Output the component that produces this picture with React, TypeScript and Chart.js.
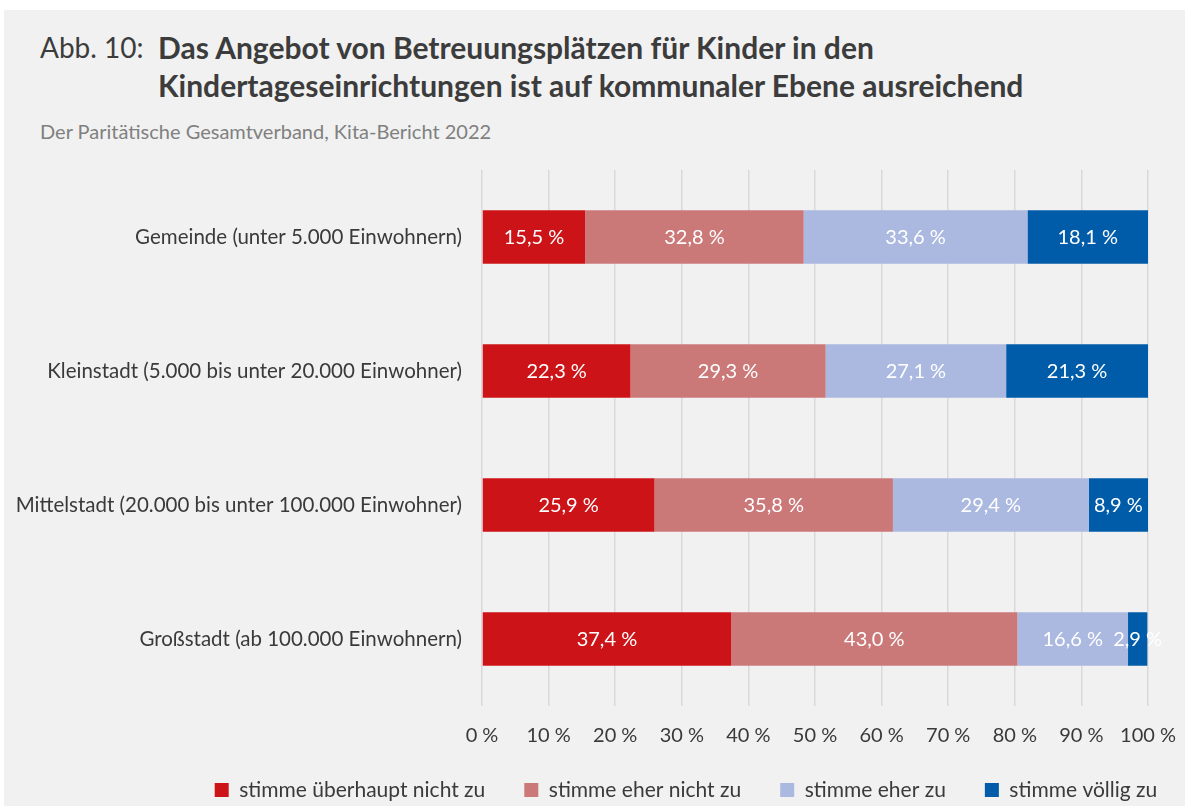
import React, { useEffect, useRef } from "react";
import { Chart, registerables } from "chart.js";

Chart.register(...registerables);

const categories = [
  "Gemeinde (unter 5.000 Einwohnern)",
  "Kleinstadt (5.000 bis unter 20.000 Einwohner)",
  "Mittelstadt (20.000 bis unter 100.000 Einwohner)",
  "Großstadt (ab 100.000 Einwohnern)",
];
const seriesNames = [
  "stimme überhaupt nicht zu",
  "stimme eher nicht zu",
  "stimme eher zu",
  "stimme völlig zu",
];
const stimmeUeberhauptNicht = [15.5, 22.3, 25.9, 37.4];
const stimmeEherNicht = [32.8, 29.3, 35.8, 43.0];
const stimmeEher = [33.6, 27.1, 29.4, 16.6];
const stimmeVoellig = [18.1, 21.3, 8.9, 2.9];
const seriesColors = ["#cc1418", "#cb7879", "#abb8e0", "#005ca8"];
const xTickMin = 0;
const xTickMax = 100;
const xTickStep = 10;

const FONT = "Lato, 'Open Sans', sans-serif";
const TEXT = "#3a3a3a";

// canvas placement on the page
const CANVAS_TOP = 135;
// legend placement (canvas coordinates)
const LEGEND_CENTER_X = 686;
const LEGEND_TEXT_Y = 790 - CANVAS_TOP;

const fmt = (v: number) => v.toFixed(1).replace(".", ",") + " %";

const valueLabels = {
  id: "valueLabels",
  afterDatasetsDraw(chart: any) {
    const ctx = chart.ctx;
    ctx.save();
    ctx.fillStyle = "#ffffff";
    ctx.font = `20px ${FONT}`;
    ctx.textAlign = "center";
    ctx.textBaseline = "middle";
    chart.data.datasets.forEach((ds: any, di: number) => {
      const meta = chart.getDatasetMeta(di);
      meta.data.forEach((bar: any, i: number) => {
        const v = ds.data[i];
        const cx = (bar.base + bar.x) / 2;
        ctx.fillText(fmt(v), cx, bar.y + 1);
      });
    });
    ctx.restore();
  },
};

const legendPlacement = {
  id: "legendPlacement",
  afterLayout(chart: any) {
    const lg = chart.legend;
    if (!lg) return;
    const dx = LEGEND_CENTER_X - (lg.left + lg.right) / 2;
    const lp = lg.options.labels.padding;
    const fs = lg.options.labels.font.size;
    const targetTop = LEGEND_TEXT_Y - lp - fs / 2;
    const dy = targetTop - lg.top;
    lg.left += dx;
    lg.right += dx;
    lg.top += dy;
    lg.bottom += dy;
  },
};

export default function App() {
  const ref = useRef<HTMLCanvasElement | null>(null);

  useEffect(() => {
    if (!ref.current) return;
    const seriesData = [stimmeUeberhauptNicht, stimmeEherNicht, stimmeEher, stimmeVoellig];
    const chart = new Chart(ref.current, {
      type: "bar",
      data: {
        labels: categories,
        datasets: seriesNames.map((name, i) => ({
          label: name,
          data: seriesData[i],
          backgroundColor: seriesColors[i],
          borderWidth: 0,
          categoryPercentage: 1,
          barPercentage: 0.4,
        })),
      },
      options: {
        indexAxis: "y",
        responsive: true,
        maintainAspectRatio: false,
        animation: false,
        layout: { padding: { left: 0, right: 50, top: 35, bottom: 0 } },
        plugins: {
          tooltip: { enabled: false },
          title: { display: false },
          legend: {
            position: "bottom",
            align: "center",
            labels: {
              boxWidth: 14,
              boxHeight: 14,
              padding: 39,
              color: TEXT,
              font: { family: FONT, size: 21 },
            },
          },
        },
        scales: {
          x: {
            stacked: true,
            min: xTickMin,
            max: xTickMax,
            border: { display: false },
            grid: { color: "#d9d9d9", lineWidth: 1.5, drawTicks: false },
            ticks: {
              stepSize: xTickStep,
              padding: 18,
              color: TEXT,
              font: { family: FONT, size: 20 },
              callback: (v: any) => `${v} %`,
            },
            afterFit: (scale: any) => {
              scale.height = 50;
            },
          },
          y: {
            stacked: true,
            border: { display: false },
            grid: { display: false, drawTicks: false },
            ticks: {
              padding: 20,
              color: TEXT,
              font: { family: FONT, size: 20.5 },
            },
            afterFit: (scale: any) => {
              scale.width = 482;
            },
          },
        },
      },
      plugins: [valueLabels, legendPlacement],
    });
    return () => chart.destroy();
  }, []);

  return (
    <div
      style={{
        position: "fixed",
        left: 0,
        top: 0,
        width: 1185,
        height: 806,
        overflow: "hidden",
        background: "#ffffff",
        fontFamily: FONT,
      }}
    >
      <div
        style={{
          position: "absolute",
          left: 4,
          top: 10,
          right: 0,
          bottom: 0,
          background: "#f1f1f1",
        }}
      />
      <div
        style={{
          position: "absolute",
          left: 40,
          top: 28,
          display: "flex",
          color: "#3c3c3c",
          lineHeight: "38px",
        }}
      >
        <div style={{ width: 118, fontSize: 28 }}>Abb. 10:</div>
        <div style={{ fontWeight: 700, fontSize: 30 }}>
          <div>Das Angebot von Betreuungsplätzen für Kinder in den</div>
          <div>Kindertageseinrichtungen ist auf kommunaler Ebene ausreichend</div>
        </div>
      </div>
      <div
        style={{
          position: "absolute",
          left: 40,
          top: 120,
          color: "#808080",
          fontSize: 20,
          lineHeight: "22px",
        }}
      >
        Der Paritätische Gesamtverband, Kita-Bericht 2022
      </div>
      <div
        style={{
          position: "absolute",
          left: 0,
          top: CANVAS_TOP,
          width: 1198,
          height: 691,
        }}
      >
        <canvas ref={ref} />
      </div>
    </div>
  );
}
